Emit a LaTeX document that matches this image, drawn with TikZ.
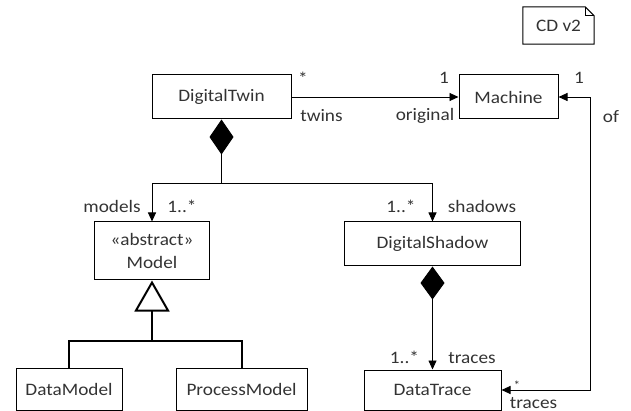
\documentclass[tikz,border=0pt]{standalone}
\usepackage{fontspec}
\setmainfont{Carlito}[FakeStretch=1.1]
\usetikzlibrary{arrows.meta}

\tikzset{
  cls/.style={draw,line width=1pt,inner sep=0pt,align=center,text=black!80,
    font=\fontsize{17.5}{23}\selectfont},
  lbl/.style={inner sep=0pt,anchor=base,text=black!80,font=\fontsize{17.5}{21}\selectfont},
  assoc/.style={line width=0.9pt,-{Triangle[length=9pt,width=8pt]}},
  comp/.style={line width=0.9pt,-{Diamond[length=35pt,width=24pt]}},
  inh/.style={line width=2pt,-{Triangle[open,length=31pt,width=35pt]}}
}

\begin{document}
\begin{tikzpicture}[x=1pt,y=-1pt]
\useasboundingbox (0,0) rectangle (631,411);

% classes
\node[cls,minimum width=139pt,minimum height=44pt] (twin) at (221.5,97) {DigitalTwin};
\node[cls,minimum width=99pt,minimum height=44pt] (machine) at (508.5,97) {Machine};
\node[cls,minimum width=115pt,minimum height=58pt] (model) at (152,251) {«abstract»\\Model};
\node[cls,minimum width=176pt,minimum height=44pt] (shadow) at (432.5,244) {DigitalShadow};
\node[cls,minimum width=106pt,minimum height=42pt] (datamodel) at (69,389) {DataModel};
\node[cls,minimum width=131pt,minimum height=42pt] (processmodel) at (241.5,389) {ProcessModel};
\node[cls,minimum width=137pt,minimum height=40pt] (datatrace) at (432.5,390) {DataTrace};

% note
\node[lbl,anchor=center,minimum width=71pt,minimum height=37pt] (note) at (558.5,25.5) {CD v2};
\draw[line width=1pt] (note.north west) -- ([xshift=-9pt]note.north east)
  -- ([yshift=-9pt]note.north east) -- (note.south east) -- (note.south west) -- cycle;
\draw[line width=0.6pt] ([xshift=-9pt]note.north east) -- ([xshift=-9pt,yshift=-9pt]note.north east)
  -- ([yshift=-9pt]note.north east);

% associations
\draw[assoc] (twin) -- (machine);
\draw[line width=0.9pt,{Triangle[length=9pt,width=8pt]}-{Triangle[length=9pt,width=8pt]}]
  (machine.east) -- ++(32,0) |- (datatrace.east);

% compositions
\coordinate (fork) at (twin.south |- 0,183);
\draw[comp] (fork) -- (twin.south);
\draw[assoc] (fork) -| (model.north);
\draw[assoc] (fork) -| (shadow.north);
\draw[line width=0.9pt,{Triangle[length=9pt,width=8pt]}-{Diamond[length=33pt,width=24pt]}]
  (datatrace.north) -- (shadow.south);

% generalization
\coordinate (gen) at (model.south |- 0,341);
\draw[inh] (gen) -- (model.south);
\draw[line width=2pt] (datamodel.north) |- (gen) -| (processmodel.north);

% roles and multiplicities
\node[lbl] (twinMult) at (303,85) {*};
\node[lbl] (twinRole) at (321.5,122) {twins};
\node[lbl] (machMult) at (444,84) {1};
\node[lbl] (machRole) at (425,121) {original};
\node[lbl] (ofMult) at (579,84) {1};
\node[lbl] (ofRole) at (611,123) {of};
\node[lbl] (modelRole) at (112,213) {models};
\node[lbl] (modelMult) at (182,213) {1..*};
\node[lbl] (shadowMult) at (401,213) {1..*};
\node[lbl] (shadowRole) at (482,213) {shadows};
\node[lbl] (traceMult) at (404.5,363) {1..*};
\node[lbl] (traceRole) at (472,363) {traces};
\node[lbl,font=\fontsize{12}{14}\selectfont] (tracesMult) at (517,389) {*};
\node[lbl] (tracesRole) at (533.5,408) {traces};
\end{tikzpicture}
\end{document}
